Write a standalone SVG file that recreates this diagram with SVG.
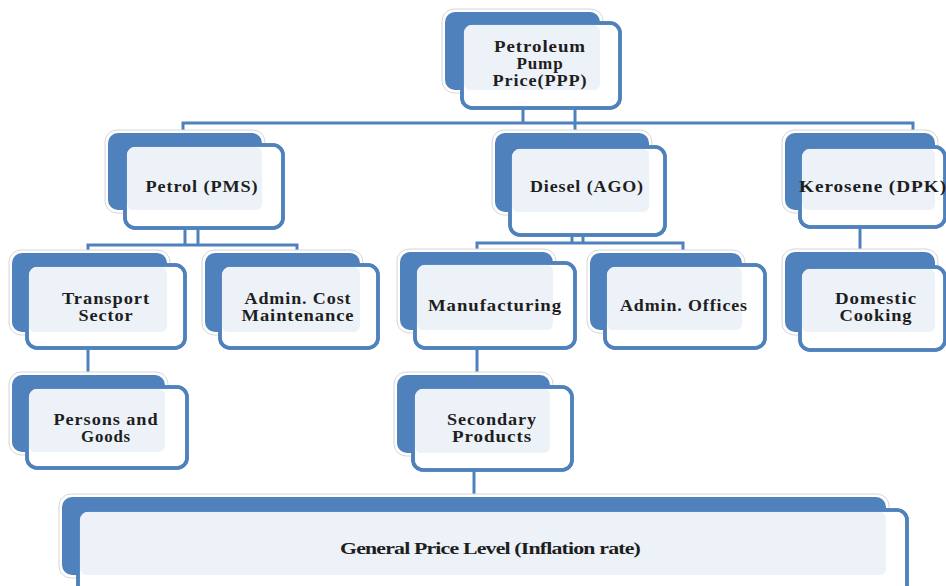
<svg xmlns="http://www.w3.org/2000/svg" width="946" height="586" viewBox="0 0 946 586">
<style>
.glow{fill:#fff;stroke:#d6d6d6;stroke-width:1}
.back{fill:#4f81bd}
.light{fill:#edf1f8}
.front{fill:#fff;stroke:#4f81bd;stroke-width:3.5}
.frontS{fill:none;stroke:#4f81bd;stroke-width:3.5}
.t{font-family:"Liberation Serif","Times New Roman",serif;font-weight:bold;font-size:16px;letter-spacing:0.8px;fill:#1e1e1e;text-anchor:middle}
.conn{fill:none;stroke:#4f81bd;stroke-width:3}
</style>
<rect width="946" height="586" fill="#fff"/>
<g id="connectors" class="conn">
<path d="M523,108V123M575,108V133M183,133V123H913V133"/>
<path d="M185,228V245M198,228V245M88,253V245H297V253"/>
<path d="M572,235V243M583,235V243M477,252V243H683V253"/>
<path d="M860,227V252"/>
<path d="M88,348V375"/>
<path d="M477,348V375"/>
<path d="M474,470V497"/>
</g>
<g id="ppp">
<rect class="glow" x="442" y="9" width="161" height="84" rx="12"/>
<rect class="back" x="445" y="12" width="155" height="78" rx="10"/>
<rect class="front" x="462" y="23" width="158" height="85" rx="10"/>
<rect class="light" x="464" y="25" width="136" height="65" rx="6"/>
<rect class="frontS" x="462" y="23" width="158" height="85" rx="10"/>
<text class="t" x="540" y="52" textLength="92" lengthAdjust="spacingAndGlyphs">Petroleum</text>
<text class="t" x="540" y="69" textLength="47" lengthAdjust="spacingAndGlyphs">Pump</text>
<text class="t" x="540" y="86" textLength="95" lengthAdjust="spacingAndGlyphs">Price(PPP)</text>
</g>
<g id="petrol">
<rect class="glow" x="105" y="130" width="160" height="83" rx="12"/>
<rect class="back" x="108" y="133" width="154" height="77" rx="10"/>
<rect class="front" x="125" y="145" width="158" height="83" rx="10"/>
<rect class="light" x="127" y="147" width="135" height="63" rx="6"/>
<rect class="frontS" x="125" y="145" width="158" height="83" rx="10"/>
<text class="t" x="202" y="192" textLength="113" lengthAdjust="spacingAndGlyphs">Petrol (PMS)</text>
</g>
<g id="diesel">
<rect class="glow" x="492" y="130" width="160" height="85" rx="12"/>
<rect class="back" x="495" y="133" width="154" height="79" rx="10"/>
<rect class="front" x="510" y="147" width="155" height="88" rx="10"/>
<rect class="light" x="512" y="149" width="137" height="63" rx="6"/>
<rect class="frontS" x="510" y="147" width="155" height="88" rx="10"/>
<text class="t" x="587" y="192" textLength="114" lengthAdjust="spacingAndGlyphs">Diesel (AGO)</text>
</g>
<g id="kerosene">
<rect class="glow" x="782" y="130" width="156" height="83" rx="12"/>
<rect class="back" x="785" y="133" width="150" height="77" rx="10"/>
<rect class="front" x="800" y="147" width="145" height="80" rx="10"/>
<rect class="light" x="802" y="149" width="133" height="61" rx="6"/>
<rect class="frontS" x="800" y="147" width="145" height="80" rx="10"/>
<text class="t" x="873" y="192" textLength="148" lengthAdjust="spacingAndGlyphs">Kerosene (DPK)</text>
</g>
<g id="transport">
<rect class="glow" x="9" y="250" width="161" height="85" rx="12"/>
<rect class="back" x="12" y="253" width="155" height="79" rx="10"/>
<rect class="front" x="27" y="265" width="158" height="83" rx="10"/>
<rect class="light" x="29" y="267" width="138" height="65" rx="6"/>
<rect class="frontS" x="27" y="265" width="158" height="83" rx="10"/>
<text class="t" x="106" y="304" textLength="88" lengthAdjust="spacingAndGlyphs">Transport</text>
<text class="t" x="106" y="321" textLength="55" lengthAdjust="spacingAndGlyphs">Sector</text>
</g>
<g id="admin-cost">
<rect class="glow" x="202" y="250" width="161" height="85" rx="12"/>
<rect class="back" x="205" y="253" width="155" height="79" rx="10"/>
<rect class="front" x="220" y="265" width="158" height="83" rx="10"/>
<rect class="light" x="222" y="267" width="138" height="65" rx="6"/>
<rect class="frontS" x="220" y="265" width="158" height="83" rx="10"/>
<text class="t" x="298" y="304" textLength="107" lengthAdjust="spacingAndGlyphs">Admin. Cost</text>
<text class="t" x="298" y="321" textLength="113" lengthAdjust="spacingAndGlyphs">Maintenance</text>
</g>
<g id="manufacturing">
<rect class="glow" x="397" y="249" width="159" height="84" rx="12"/>
<rect class="back" x="400" y="252" width="153" height="78" rx="10"/>
<rect class="front" x="415" y="263" width="160" height="85" rx="10"/>
<rect class="light" x="417" y="265" width="136" height="65" rx="6"/>
<rect class="frontS" x="415" y="263" width="160" height="85" rx="10"/>
<text class="t" x="495" y="311" textLength="134" lengthAdjust="spacingAndGlyphs">Manufacturing</text>
</g>
<g id="admin-offices">
<rect class="glow" x="587" y="250" width="158" height="83" rx="12"/>
<rect class="back" x="590" y="253" width="152" height="77" rx="10"/>
<rect class="front" x="605" y="265" width="160" height="83" rx="10"/>
<rect class="light" x="607" y="267" width="135" height="63" rx="6"/>
<rect class="frontS" x="605" y="265" width="160" height="83" rx="10"/>
<text class="t" x="684" y="311" textLength="128" lengthAdjust="spacingAndGlyphs">Admin. Offices</text>
</g>
<g id="domestic">
<rect class="glow" x="782" y="249" width="156" height="86" rx="12"/>
<rect class="back" x="785" y="252" width="150" height="80" rx="10"/>
<rect class="front" x="800" y="267" width="145" height="83" rx="10"/>
<rect class="light" x="802" y="269" width="133" height="63" rx="6"/>
<rect class="frontS" x="800" y="267" width="145" height="83" rx="10"/>
<text class="t" x="876" y="304" textLength="82" lengthAdjust="spacingAndGlyphs">Domestic</text>
<text class="t" x="876" y="321" textLength="73" lengthAdjust="spacingAndGlyphs">Cooking</text>
</g>
<g id="persons">
<rect class="glow" x="9" y="372" width="159" height="83" rx="12"/>
<rect class="back" x="12" y="375" width="153" height="77" rx="10"/>
<rect class="front" x="27" y="387" width="160" height="81" rx="10"/>
<rect class="light" x="29" y="389" width="136" height="63" rx="6"/>
<rect class="frontS" x="27" y="387" width="160" height="81" rx="10"/>
<text class="t" x="106" y="425" textLength="105" lengthAdjust="spacingAndGlyphs">Persons and</text>
<text class="t" x="106" y="442" textLength="50" lengthAdjust="spacingAndGlyphs">Goods</text>
</g>
<g id="secondary">
<rect class="glow" x="394" y="372" width="159" height="84" rx="12"/>
<rect class="back" x="397" y="375" width="153" height="78" rx="10"/>
<rect class="front" x="413" y="387" width="159" height="83" rx="10"/>
<rect class="light" x="415" y="389" width="135" height="64" rx="6"/>
<rect class="frontS" x="413" y="387" width="159" height="83" rx="10"/>
<text class="t" x="492" y="425" textLength="90" lengthAdjust="spacingAndGlyphs">Secondary</text>
<text class="t" x="492" y="442" textLength="80" lengthAdjust="spacingAndGlyphs">Products</text>
</g>
<g id="general">
<rect class="glow" x="59" y="494" width="830" height="84" rx="12"/>
<rect class="back" x="62" y="497" width="824" height="78" rx="10"/>
<rect class="front" x="78" y="510" width="829" height="100" rx="10"/>
<rect class="light" x="80" y="512" width="806" height="63" rx="6"/>
<rect class="frontS" x="78" y="510" width="829" height="100" rx="10"/>
<text class="t" x="490" y="554" textLength="300" lengthAdjust="spacingAndGlyphs" style="font-size:16px;letter-spacing:-0.6px">General Price Level (Inflation rate)</text>
</g>
</svg>
